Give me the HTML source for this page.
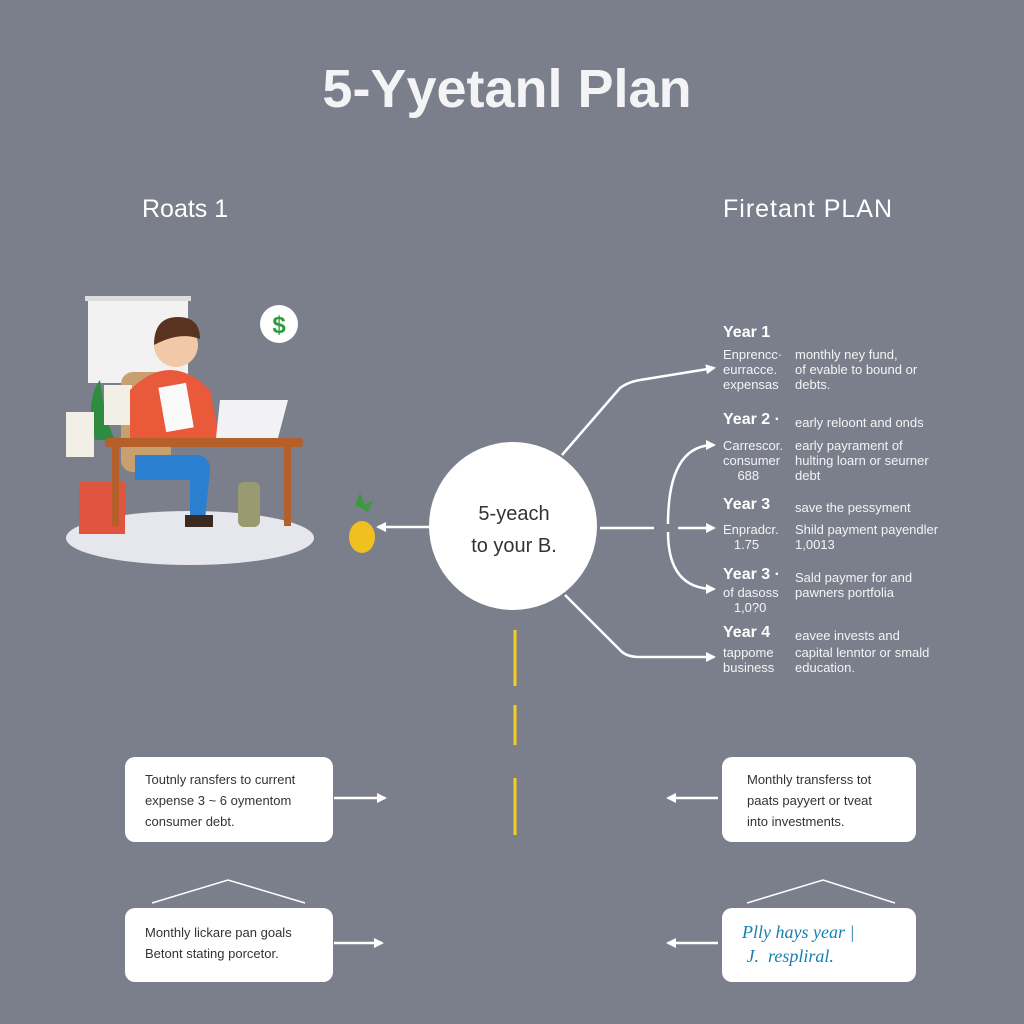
<!DOCTYPE html>
<html><head><meta charset="utf-8"><style>
body{margin:0;width:1024px;height:1024px;background:#7b7f8c;font-family:"Liberation Sans",sans-serif;position:relative;overflow:hidden;color:#fff}
.a{position:absolute;white-space:nowrap}
.box{position:absolute;background:#fff;border-radius:10px;color:#333;font-size:13px;line-height:21px;padding:0 0 0 20px;box-sizing:border-box}
.yr{font-weight:bold;font-size:16px}
.t{font-size:13px;line-height:15px;color:#f4f4f4}
</style></head><body>
<div class="a" style="left:0;width:1014px;text-align:center;top:58px;font-size:54px;font-weight:bold;color:#f4f4f6">5-Yyetanl Plan</div>
<div class="a" style="left:142px;top:195px;font-size:25px">Roats 1</div>
<div class="a" style="left:723px;top:195px;font-size:25px;letter-spacing:1px">Firetant PLAN</div>

<svg class="a" style="left:0;top:0" width="1024" height="1024">
<defs><marker id="ar" markerWidth="10" markerHeight="10" refX="8" refY="5" orient="auto" markerUnits="userSpaceOnUse"><path d="M0,0 L10,5 L0,10 z" fill="#fff"/></marker></defs>
<ellipse cx="190" cy="538" rx="124" ry="27" fill="#e6e7ec"/>
<rect x="88" y="298" width="100" height="85" fill="#f2f2f2"/>
<rect x="85" y="296" width="106" height="5" fill="#ddd"/>
<circle cx="279" cy="324" r="19" fill="#fff"/><text x="279" y="333" font-size="24" fill="#2a9d3a" text-anchor="middle" font-weight="bold" font-family="Liberation Sans">$</text>
<rect x="121" y="372" width="50" height="100" rx="12" fill="#c8a070"/>
<path d="M95,440 q-10,-40 5,-60 q5,40 15,60z" fill="#2e8b3f"/>
<rect x="79" y="482" width="46" height="52" fill="#e05540"/>
<rect x="66" y="412" width="28" height="45" fill="#f2efe6"/>
<rect x="104" y="385" width="28" height="40" fill="#f2efe6"/>
<path d="M130,390 q20,-20 40,-20 q20,0 40,20 l10,50 h-90z" fill="#e85a3a"/>
<circle cx="176" cy="345" r="22" fill="#f2c9a8"/>
<path d="M154,345 q0,-28 24,-28 q22,0 22,22 q-20,-8 -46,6z" fill="#5a3220"/>
<rect x="162" y="385" width="28" height="45" fill="#fafafa" transform="rotate(-10 176 407)"/>
<path d="M220,400 h68 l-10,38 h-62z" fill="#f2f2f4"/>
<rect x="105" y="438" width="198" height="9" rx="3" fill="#b5602a"/>
<rect x="112" y="446" width="7" height="80" fill="#b5602a"/><rect x="284" y="446" width="7" height="80" fill="#b5602a"/>
<path d="M135,455 h60 q15,0 15,15 l-5,50 h-15 l0,-40 h-55z" fill="#2b7fd0"/>
<path d="M185,515 h28 v12 h-28z" fill="#3a2a22"/>
<rect x="238" y="482" width="22" height="45" rx="6" fill="#9a9a70"/>
<path d="M355,505 l5,-12 l5,12 l8,-5 l-5,12z" fill="#3c9a3c"/>
<ellipse cx="362" cy="537" rx="13" ry="16" fill="#f0c020"/>
<circle cx="513" cy="526" r="84" fill="#fff"/>
<g stroke="#fff" stroke-width="2.5" fill="none">
<line x1="430" y1="527" x2="378" y2="527" marker-end="url(#ar)"/>
<path d="M562,455 L620,388 Q628,382 640,380 L714,368" marker-end="url(#ar)"/>
<path d="M565,595 L620,650 Q626,657 640,657 L714,657" marker-end="url(#ar)"/>
<line x1="600" y1="528" x2="654" y2="528"/>
<line x1="678" y1="528" x2="714" y2="528" marker-end="url(#ar)"/>
<path d="M668,524 Q668,445 714,445" marker-end="url(#ar)"/>
<path d="M668,532 Q668,589 714,589" marker-end="url(#ar)"/>
<line x1="334" y1="798" x2="385" y2="798" marker-end="url(#ar)"/>
<line x1="718" y1="798" x2="668" y2="798" marker-end="url(#ar)"/>
<line x1="334" y1="943" x2="382" y2="943" marker-end="url(#ar)"/>
<line x1="718" y1="943" x2="668" y2="943" marker-end="url(#ar)"/>
<path d="M152,903 L228,880 L305,903" stroke-width="1.5"/>
<path d="M747,903 L823,880 L895,903" stroke-width="1.5"/>
</g>
<g stroke="#f0d020" stroke-width="3"><line x1="515" y1="630" x2="515" y2="686"/><line x1="515" y1="705" x2="515" y2="745"/><line x1="515" y1="778" x2="515" y2="835"/></g>
</svg>
<div class="a" style="left:430px;width:168px;text-align:center;top:498px;font-size:20px;line-height:32px;color:#333">5-yeach<br>to your B.</div>

<div class="a yr" style="left:723px;top:324px">Year 1</div>
<div class="a t" style="left:723px;top:347px">Enprencc·<br>eurracce.<br>expensas</div>
<div class="a t" style="left:795px;top:347px">monthly ney fund,<br>of evable to bound or<br>debts.</div>
<div class="a yr" style="left:723px;top:411px">Year 2 ·</div>
<div class="a t" style="left:795px;top:415px">early reloont and onds</div>
<div class="a t" style="left:723px;top:438px">Carrescor.<br>consumer<br>&nbsp;&nbsp;&nbsp;&nbsp;688</div>
<div class="a t" style="left:795px;top:438px">early payrament of<br>hulting loarn or seurner<br>debt</div>
<div class="a yr" style="left:723px;top:496px">Year 3</div>
<div class="a t" style="left:795px;top:500px">save the pessyment</div>
<div class="a t" style="left:723px;top:522px">Enpradcr.<br>&nbsp;&nbsp;&nbsp;1.75</div>
<div class="a t" style="left:795px;top:522px">Shild payment payendler<br>1,0013</div>
<div class="a yr" style="left:723px;top:566px">Year 3 ·</div>
<div class="a t" style="left:723px;top:585px">of dasoss<br>&nbsp;&nbsp;&nbsp;1,0?0</div>
<div class="a t" style="left:795px;top:570px">Sald paymer for and<br>pawners portfolia</div>
<div class="a yr" style="left:723px;top:624px">Year 4</div>
<div class="a t" style="left:795px;top:628px">eavee invests and</div>
<div class="a t" style="left:723px;top:645px">tappome<br>business</div>
<div class="a t" style="left:795px;top:645px">capital lenntor or smald<br>education.</div>

<div class="box" style="left:125px;top:757px;width:208px;height:85px;padding-top:12px">Toutnly ransfers to current<br>expense 3 ~ 6 oymentom<br>consumer debt.</div>
<div class="box" style="left:722px;top:757px;width:194px;height:85px;padding-top:12px;padding-left:25px">Monthly transferss tot<br>paats payyert or tveat<br>into investments.</div>
<div class="box" style="left:125px;top:908px;width:208px;height:74px;padding-top:14px">Monthly lickare pan goals<br>Betont stating porcetor.</div>
<div class="box" style="left:722px;top:908px;width:194px;height:74px;padding-top:12px;padding-left:20px;color:#1a7fb0;font-family:'Liberation Serif',serif;font-style:italic;font-size:18px;line-height:24px">Plly hays year |<br>&nbsp;J. &nbsp;respliral.</div>
</body></html>
